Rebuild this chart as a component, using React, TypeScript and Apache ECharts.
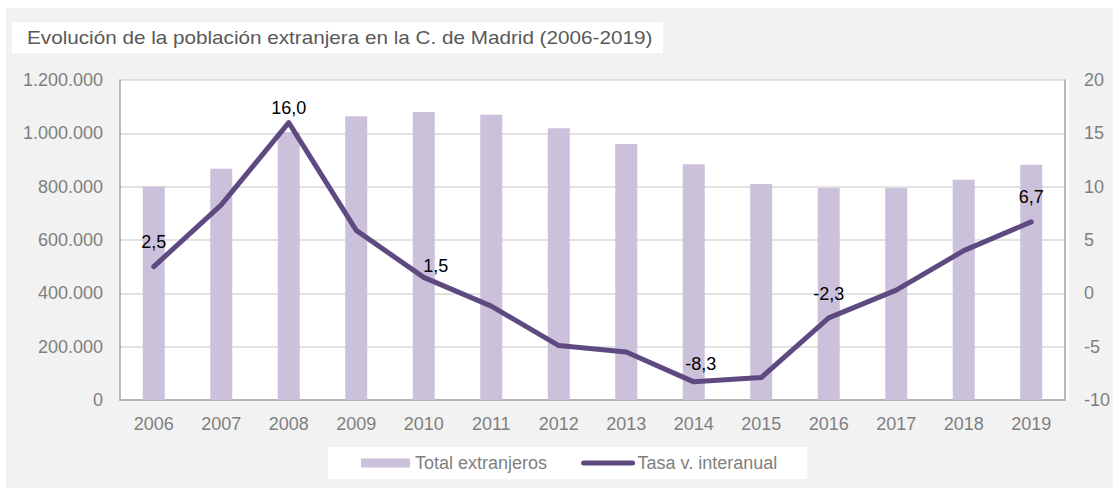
import React, { useEffect, useRef } from "react";
import * as echarts from "echarts";

const years = ["2006", "2007", "2008", "2009", "2010", "2011", "2012", "2013", "2014", "2015", "2016", "2017", "2018", "2019"];
const totalExtranjeros = [800512, 866910, 1005381, 1063803, 1079944, 1070000, 1018710, 960000, 884000, 810000, 795000, 795000, 826000, 882000];
const tasaInteranual = [2.5, 8.3, 16.0, 5.9, 1.5, -1.2, -4.9, -5.5, -8.3, -7.9, -2.3, 0.3, 4.0, 6.7];
const labelledYears = ["2006", "2008", "2010", "2014", "2016", "2019"];

const FONT = "'Liberation Sans', Arial, sans-serif";
const fmtThousands = (v: number) => String(Math.round(v)).replace(/\B(?=(\d{3})+(?!\d))/g, ".");
const fmtComma = (v: number) => v.toFixed(1).replace(".", ",");

const labelOffsets: Record<string, [number, number]> = {
  "2006": [0, -25],
  "2008": [0, -15],
  "2010": [12, -11],
  "2014": [7, -18],
  "2016": [0, -24],
  "2019": [0, -25],
};

export default function App() {
  const ref = useRef<HTMLDivElement>(null);
  useEffect(() => {
    if (!ref.current) return;
    const chart = echarts.init(ref.current, undefined, { renderer: "svg" });
    const lineData = tasaInteranual.map((v, i) => {
      const y = years[i];
      if (labelledYears.includes(y)) {
        return {
          value: v,
          label: {
            show: true,
            position: "inside",
            offset: labelOffsets[y],
            formatter: (p: any) => fmtComma(p.value),
            color: "#000",
            fontSize: 18,
            fontFamily: FONT,
          },
        };
      }
      return { value: v };
    });
    chart.setOption({
      animation: false,
      backgroundColor: "#ffffff",
      textStyle: { fontFamily: FONT },
      graphic: [
        { type: "rect", z: -10, silent: true, shape: { x: 6, y: 8, width: 1107, height: 480 }, style: { fill: "#f2f2f2" } },
        { type: "rect", z: -9, silent: true, shape: { x: 120, y: 80, width: 949, height: 320 }, style: { fill: "#ffffff" } },
        { type: "rect", z: -9, silent: true, shape: { x: 12, y: 22, width: 651, height: 31 }, style: { fill: "#ffffff" } },
        {
          type: "text",
          x: 27,
          y: 38,
          scaleX: 1.15,
          style: { text: "Evolución de la población extranjera en la C. de Madrid (2006-2019)", fill: "#595959", font: `18px ${FONT}`, textVerticalAlign: "middle" },
        },
      ],
      legend: {
        left: 328,
        top: 447,
        backgroundColor: "#ffffff",
        padding: [7, 30, 7, 33],
        itemWidth: 49,
        itemHeight: 9,
        itemGap: 34,
        textStyle: { color: "#7f7f7f", fontSize: 18, fontFamily: FONT },
        data: [
          { name: "Total extranjeros", icon: "rect" },
          { name: "Tasa v. interanual", itemStyle: { opacity: 0 }, lineStyle: { width: 5, cap: "round" } },
        ],
      },
      grid: { left: 120, right: 44, top: 80, bottom: 88 },
      xAxis: {
        type: "category",
        data: years,
        axisLine: { lineStyle: { color: "#a6a6a6", width: 1.5 } },
        axisTick: { show: false },
        axisLabel: { color: "#7f7f7f", fontSize: 18, margin: 15, fontFamily: FONT },
      },
      yAxis: [
        {
          type: "value",
          min: 0,
          max: 1200000,
          interval: 200000,
          axisLine: { show: true, lineStyle: { color: "#a6a6a6", width: 1.5 } },
          axisTick: { show: false },
          splitLine: { lineStyle: { color: "#d9d9d9", width: 1.5 } },
          axisLabel: { color: "#7f7f7f", fontSize: 18, margin: 17, formatter: (v: number) => fmtThousands(v), fontFamily: FONT },
        },
        {
          type: "value",
          min: -10,
          max: 20,
          interval: 5,
          position: "right",
          axisLine: { show: true, lineStyle: { color: "#a6a6a6", width: 1.5 } },
          axisTick: { show: false },
          splitLine: { show: false },
          axisLabel: { color: "#7f7f7f", fontSize: 18, margin: 19, align: "left", fontFamily: FONT },
        },
      ],
      series: [
        {
          name: "Total extranjeros",
          type: "bar",
          yAxisIndex: 0,
          data: totalExtranjeros,
          barWidth: 22,
          itemStyle: { color: "#cbc1db" },
        },
        {
          name: "Tasa v. interanual",
          type: "line",
          yAxisIndex: 1,
          data: lineData,
          symbol: "circle",
          symbolSize: 1,
          showSymbol: true,
          lineStyle: { color: "#5e4a80", width: 5, cap: "round", join: "round" },
          itemStyle: { color: "#5e4a80" },
        },
      ],
    });
    return () => chart.dispose();
  }, []);
  return <div ref={ref} style={{ position: "fixed", left: 0, top: 0, width: 1113, height: 488 }} />;
}
